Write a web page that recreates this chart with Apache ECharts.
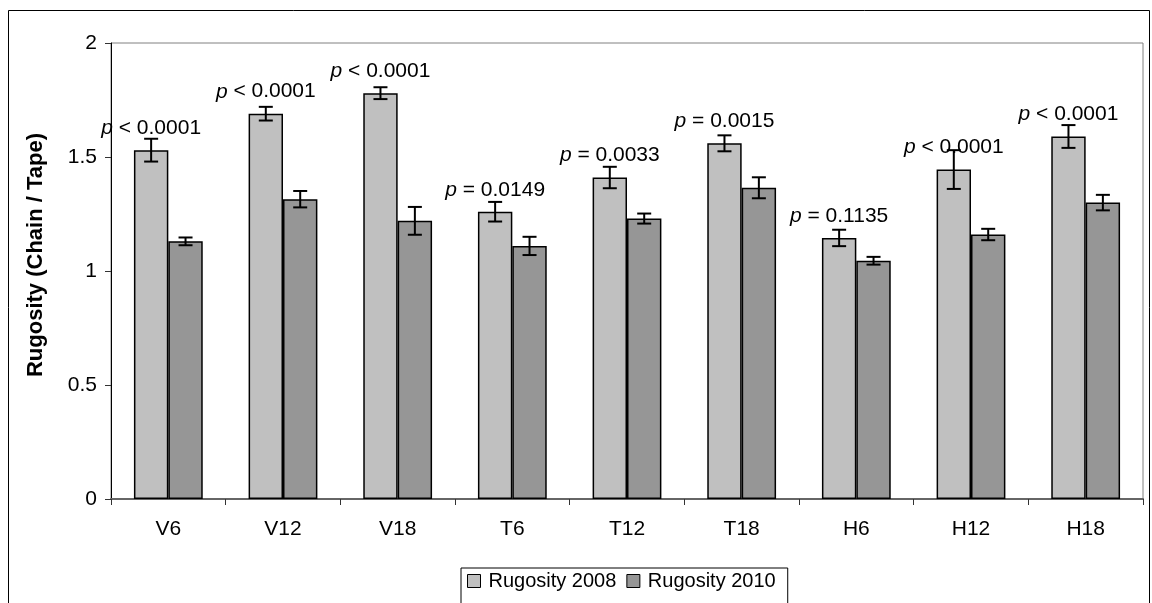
<!DOCTYPE html>
<html>
<head>
<meta charset="utf-8">
<script src="https://cdn.jsdelivr.net/npm/echarts@6/dist/echarts.min.js"></script>
<style>
html,body{margin:0;padding:0;background:#fff;}
#chart{width:1152px;height:603px;}
</style>
</head>
<body>
<div id="chart"></div>
<script>
const categories = ['V6','V12','V18','T6','T12','T18','H6','H12','H18'];
const rug2008 = [1.53, 1.69, 1.78, 1.26, 1.41, 1.56, 1.145, 1.445, 1.59];
const rug2010 = [1.13, 1.315, 1.22, 1.11, 1.23, 1.365, 1.045, 1.16, 1.30];
const err2008 = [0.05, 0.03, 0.026, 0.043, 0.047, 0.035, 0.036, 0.085, 0.05];
const err2010 = [0.017, 0.036, 0.061, 0.04, 0.022, 0.046, 0.017, 0.025, 0.034];
const pLabels = ['p < 0.0001','p < 0.0001','p < 0.0001','p = 0.0149','p = 0.0033','p = 0.0015','p = 0.1135','p < 0.0001','p < 0.0001'];
const yTicks = [0, 0.5, 1, 1.5, 2];
const seriesNames = ['Rugosity 2008','Rugosity 2010'];
const yTitle = 'Rugosity (Chain / Tape)';

const FONT = '"Liberation Sans", Arial, sans-serif';
const chart = echarts.init(document.getElementById('chart'), null, {renderer:'canvas'});

function errSeries(vals, errs, sign){
  return {
    type:'custom',
    z:10,
    silent:true,
    data: vals.map((v,i)=>[i, v, errs[i]]),
    renderItem: function(params, api){
      const x = api.value(0), v = api.value(1), e = api.value(2);
      const band = api.size([1,0])[0];
      const off = sign * band * 0.15;
      const t = api.coord([x, v + e]);
      const b = api.coord([x, v - e]);
      const cx = t[0] + off;
      const h = 7;
      const st = {stroke:'#000', lineWidth:2};
      return {type:'group', children:[
        {type:'line', shape:{x1:cx, y1:t[1], x2:cx, y2:b[1]}, style:st},
        {type:'line', shape:{x1:cx-h, y1:t[1], x2:cx+h, y2:t[1]}, style:st},
        {type:'line', shape:{x1:cx-h, y1:b[1], x2:cx+h, y2:b[1]}, style:st}
      ]};
    }
  };
}

const option = {
  animation:false,
  backgroundColor:'#fff',
  textStyle:{fontFamily:FONT, color:'#000'},
  grid:{left:111, top:43, right:9, bottom:104, show:true, borderColor:'#808080', borderWidth:1},
  legend:{
    data:seriesNames,
    left:461, top:568,
    orient:'horizontal',
    padding:[3,12,20,6],
    borderColor:'#000', borderWidth:1,
    backgroundColor:'#fff',
    icon:'rect',
    itemWidth:13, itemHeight:13, itemGap:10,
    textStyle:{fontFamily:FONT, fontSize:20, color:'#000', padding:[0,0,0,3]},
    itemStyle:{borderColor:'#000', borderWidth:1}
  },
  xAxis:{
    type:'category',
    data:categories,
    boundaryGap:true,
    axisLine:{lineStyle:{color:'#666', width:2}},
    axisTick:{show:true, alignWithLabel:false, length:6, lineStyle:{color:'#333', width:1}},
    axisLabel:{fontFamily:FONT, fontSize:21, color:'#000', margin:20}
  },
  yAxis:{
    type:'value',
    min:0, max:2, interval:0.5,
    splitLine:{show:false},
    axisLine:{show:true, lineStyle:{color:'#000', width:1}},
    axisTick:{show:true, length:6, lineStyle:{color:'#333'}},
    axisLabel:{fontFamily:FONT, fontSize:21, color:'#000', margin:14,
      formatter:function(v){ return yTicks.indexOf(v) >= 0 ? String(v) : ''; }}
  },
  graphic:[
    {type:'rect', silent:true, z:-10, shape:{x:8.5, y:10.5, width:1141, height:700},
      style:{fill:'none', stroke:'#000', lineWidth:1}},
    {type:'text', silent:true, x:36, y:255, rotation:Math.PI/2,
      style:{text:yTitle, fontFamily:FONT, fontSize:22, fontWeight:'bold', fill:'#000',
        textAlign:'center', textVerticalAlign:'middle'}}
  ],
  series:[
    {
      name:seriesNames[0], type:'bar', data:rug2008,
      barCategoryGap:'40%', barGap:'0%',
      itemStyle:{color:'#C0C0C0', borderColor:'#000', borderWidth:1.5},
      label:{show:true, position:'top', distance:11,
        fontFamily:FONT, fontSize:21, lineHeight:22, color:'#000',
        formatter:function(p){
          const s = pLabels[p.dataIndex];
          return '{i|' + s.charAt(0) + '}' + s.slice(1);
        },
        rich:{i:{fontStyle:'italic', fontFamily:FONT, fontSize:21, color:'#000'}}
      }
    },
    {
      name:seriesNames[1], type:'bar', data:rug2010,
      barCategoryGap:'40%', barGap:'0%',
      itemStyle:{color:'#969696', borderColor:'#000', borderWidth:1.5}
    },
    errSeries(rug2008, err2008, -1),
    errSeries(rug2010, err2010, 1)
  ]
};
chart.setOption(option);
</script>
</body>
</html>
